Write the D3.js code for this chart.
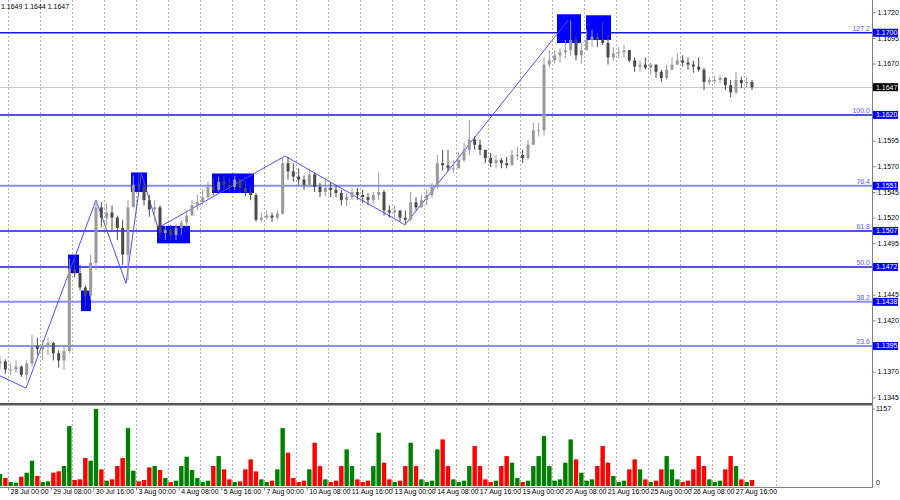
<!DOCTYPE html>
<html><head><meta charset="utf-8">
<script src="https://cdn.jsdelivr.net/npm/d3@7"></script>
<style>
html,body{margin:0;padding:0;background:#fff;}
svg{display:block;font-family:"Liberation Sans",Arial,sans-serif;}
</style></head>
<body><svg id="c" width="900" height="500"></svg>
<script>
// ---- data (4-hour bars, first bar starts 27 Jul 16:00; hour index 0 = 28 Jul 00:00) ----
const firstOpen = 1.1378;
const barHigh = [1.1385,1.1382,
1.1378,1.1381,1.1376,1.1381,1.1406,1.1403,
1.1401,1.1403,1.1399,1.1391,1.1396,1.1480,
1.1480,1.1474,1.1454,1.1484,1.1537,1.1535,
1.1534,1.1532,1.1522,1.1518,1.1537,1.1561,
1.1563,1.1557,1.1542,1.1537,1.1532,1.1512,
1.1513,1.1514,1.1518,1.1527,1.1537,1.1542,
1.1547,1.1555,1.1559,1.1560,1.1561,1.1559,
1.1561,1.1558,1.1556,1.1550,1.1544,1.1525,
1.1527,1.1525,1.1527,1.1579,1.1579,1.1573,
1.1568,1.1561,1.1568,1.1564,1.1554,1.1557,
1.1554,1.1552,1.1547,1.1544,1.1549,1.1549,
1.1547,1.1544,1.1545,1.1564,1.1547,1.1532,
1.1532,1.1527,1.1527,1.1545,1.1540,1.1542,
1.1547,1.1554,1.1581,1.1586,1.1586,1.1576,
1.1584,1.1593,1.1615,1.1599,1.1596,1.1586,
1.1583,1.1581,1.1578,1.1579,1.1586,1.1589,
1.1586,1.1596,1.1612,1.1612,1.1676,1.1683,
1.1683,1.1685,1.1693,1.1712,1.1696,1.1690,
1.1703,1.1703,1.1700,1.1710,1.1698,1.1686,
1.1686,1.1688,1.1683,1.1676,1.1673,1.1676,
1.1671,1.1669,1.1664,1.1669,1.1676,1.1680,
1.1678,1.1676,1.1673,1.1676,1.1666,1.1657,
1.1658,1.1659,1.1657,1.1654,1.1662,1.1657,
1.1657,1.1654];
const barLow = [1.1372,1.1368,
1.1367,1.1369,1.1365,1.1362,1.1375,1.1386,
1.1381,1.1386,1.1381,1.1374,1.1372,1.1388,
1.1462,1.1449,1.1433,1.1440,1.1469,1.1511,
1.1513,1.1508,1.1498,1.1474,1.1459,1.1537,
1.1545,1.1532,1.1521,1.1516,1.1500,1.1498,
1.1498,1.1498,1.1503,1.1511,1.1526,1.1527,
1.1532,1.1537,1.1542,1.1545,1.1547,1.1545,
1.1547,1.1544,1.1541,1.1537,1.1516,1.1516,
1.1518,1.1516,1.1518,1.1523,1.1557,1.1555,
1.1552,1.1547,1.1549,1.1545,1.1540,1.1541,
1.1540,1.1540,1.1532,1.1531,1.1537,1.1537,
1.1534,1.1532,1.1534,1.1537,1.1522,1.1520,
1.1520,1.1516,1.1514,1.1516,1.1527,1.1530,
1.1532,1.1539,1.1548,1.1566,1.1565,1.1564,
1.1568,1.1574,1.1581,1.1586,1.1581,1.1573,
1.1569,1.1568,1.1568,1.1568,1.1571,1.1576,
1.1573,1.1576,1.1591,1.1599,1.1600,1.1666,
1.1670,1.1671,1.1675,1.1678,1.1673,1.1670,
1.1683,1.1686,1.1686,1.1688,1.1669,1.1673,
1.1675,1.1676,1.1671,1.1662,1.1662,1.1664,
1.1659,1.1656,1.1652,1.1654,1.1664,1.1669,
1.1667,1.1664,1.1661,1.1662,1.1644,1.1649,
1.1650,1.1651,1.1644,1.1637,1.1640,1.1646,
1.1647,1.1644];
const barClose = [1.1380,1.1372,
1.1372,1.1375,1.1367,1.1378,1.1395,1.1392,
1.1396,1.1398,1.1388,1.1381,1.1390,1.1470,
1.1466,1.1452,1.1444,1.1476,1.1530,1.1520,
1.1525,1.1520,1.1510,1.1484,1.1530,1.1552,
1.1550,1.1537,1.1528,1.1530,1.1505,1.1508,
1.1503,1.1510,1.1515,1.1522,1.1532,1.1535,
1.1540,1.1550,1.1547,1.1555,1.1552,1.1550,
1.1557,1.1549,1.1545,1.1542,1.1518,1.1520,
1.1522,1.1520,1.1524,1.1573,1.1565,1.1560,
1.1557,1.1552,1.1562,1.1550,1.1545,1.1549,
1.1547,1.1544,1.1537,1.1540,1.1545,1.1542,
1.1540,1.1537,1.1542,1.1545,1.1527,1.1525,
1.1527,1.1520,1.1518,1.1535,1.1530,1.1537,
1.1542,1.1550,1.1573,1.1571,1.1568,1.1568,
1.1576,1.1586,1.1596,1.1591,1.1586,1.1578,
1.1573,1.1576,1.1573,1.1571,1.1581,1.1581,
1.1578,1.1591,1.1605,1.1605,1.1669,1.1673,
1.1678,1.1681,1.1683,1.1693,1.1678,1.1683,
1.1693,1.1696,1.1693,1.1690,1.1676,1.1680,
1.1681,1.1683,1.1673,1.1667,1.1669,1.1666,
1.1669,1.1662,1.1656,1.1664,1.1669,1.1673,
1.1671,1.1669,1.1667,1.1664,1.1652,1.1654,
1.1654,1.1656,1.1649,1.1642,1.1654,1.1651,
1.1652,1.1647];
const barVolume = [180,120,
60,50,140,200,380,150,
60,70,200,220,300,900,
90,100,420,380,1157,250,
80,100,300,420,870,230,
70,90,280,300,240,120,
60,80,300,440,240,120,
60,80,300,450,250,100,
60,70,250,400,220,100,
60,80,250,870,500,120,
60,80,250,650,300,100,
60,80,300,550,300,100,
60,80,300,800,350,100,
60,80,300,650,300,100,
60,80,550,700,300,100,
60,80,300,600,300,100,
60,80,300,450,350,120,
60,80,300,450,750,300,
80,100,350,700,400,200,
80,100,300,600,350,150,
60,80,250,400,250,100,
60,80,250,450,250,100,
60,80,250,450,300,100,
60,80,250,450,300,100,
60,90];

// zigzag vertices: hour index, price
const zigHours  = [-6, 13.5, 66, 88.5, 100, 112.5, 207.75, 297.75, 420];
const zigPrices = [1.1366, 1.1354, 1.1537, 1.1456, 1.1563, 1.1510, 1.1580, 1.1513, 1.1712];

// blue rectangles: [start hour, end hour, top price, bottom price]
const boxStart  = [45, 54.75, 92.25, 111.75, 153, 411.75, 433.5];
const boxEnd    = [53.25, 62.25, 104.25, 136.5, 184.5, 429.75, 452.25];
const boxTop    = [1.1484, 1.1449, 1.1564, 1.1512, 1.1563, 1.1718, 1.1717];
const boxBottom = [1.1466, 1.1429, 1.1545, 1.1495, 1.1544, 1.1690, 1.1693];

// Fibonacci levels
const fibNames  = ["127.2","100.0","76.4","61.8","50.0","38.2","23.6"];
const fibPrices = [1.1700, 1.1620, 1.1551, 1.1507, 1.1472, 1.1438, 1.1395];
const fibDark   = [true, true, false, true, true, false, false];

const lastPrice = 1.1647;
const priceTicks = [1.1720,1.1695,1.1670,1.1645,1.1620,1.1595,1.1570,1.1545,1.1520,1.1495,1.1470,1.1445,1.1420,1.1395,1.1370,1.1345];
const timeTickHours = [0,32,64,96,128,160,192,224,256,288,320,352,384,416,448,480,512,544];
const timeTickLabels = ["28 Jul 00:00","29 Jul 08:00","30 Jul 16:00","3 Aug 00:00","4 Aug 08:00","5 Aug 16:00","7 Aug 00:00","10 Aug 08:00","11 Aug 16:00","13 Aug 00:00","14 Aug 08:00","17 Aug 16:00","19 Aug 00:00","20 Aug 08:00","21 Aug 16:00","25 Aug 00:00","26 Aug 08:00","27 Aug 16:00"];
const gridDays = d3.range(0, 25);
const volMax = 1157;
const headerText = "1.1649 1.1644 1.1647";

// ---- drawing ----
const svg = d3.select("#c");
const W = 872, priceBottom = 403, volBottom = 487;
const x = d3.scaleLinear().domain([-6, 648]).range([0, W]);
const y = d3.scaleLinear().domain([1.1345, 1.1720]).range([397.4, 12.2]);
const yv = d3.scaleLinear().domain([0, volMax]).range([486, 409]);
const barStartHour = j => -8 + 4 * j;

const defs = svg.append("defs");
defs.append("clipPath").attr("id","cp").append("rect").attr("x",0).attr("y",0).attr("width",W).attr("height",priceBottom);
defs.append("clipPath").attr("id","cv").append("rect").attr("x",0).attr("y",406).attr("width",W).attr("height",81);

// grid
svg.append("g").selectAll("line").data(gridDays).join("line")
  .attr("x1", d => Math.round(x(d*24))+0.5).attr("x2", d => Math.round(x(d*24))+0.5)
  .attr("y1", 0).attr("y2", volBottom)
  .attr("stroke", "#b0b0b0").attr("stroke-dasharray", "2,2");

const main = svg.append("g").attr("clip-path","url(#cp)");

// current price line
main.append("line").attr("x1",0).attr("x2",W).attr("y1",Math.round(y(lastPrice))+0.5).attr("y2",Math.round(y(lastPrice))+0.5)
  .attr("stroke","#c8c8c8");

// fib lines
main.selectAll("line.fib").data(fibPrices).join("line").attr("class","fib")
  .attr("x1",0).attr("x2",W).attr("y1",d=>y(d)).attr("y2",d=>y(d))
  .attr("stroke",(d,i)=>fibDark[i]?"#1a1ad0":"#8c8cff")
  .attr("stroke-width",(d,i)=>fibDark[i]?1.5:2);

// boxes
main.selectAll("rect.box").data(boxStart).join("rect").attr("class","box")
  .attr("x",(d,i)=>x(d)).attr("width",(d,i)=>x(boxEnd[i])-x(d))
  .attr("y",(d,i)=>y(boxTop[i])).attr("height",(d,i)=>y(boxBottom[i])-y(boxTop[i]))
  .attr("fill","#0000ff");

// zigzag
main.append("path").datum(zigHours.map((h,i)=>[h,zigPrices[i]]))
  .attr("d", d3.line().x(d=>x(d[0])).y(d=>y(d[1])))
  .attr("fill","none").attr("stroke","#4d4dff").attr("stroke-width",1);

// candles
const bars = barClose.map((c,j)=>({h:barStartHour(j), o: j===0?firstOpen:barClose[j-1], hi:barHigh[j], lo:barLow[j], c, v:barVolume[j]}));
const cg = main.append("g");
bars.forEach(b=>{
  const cx = x(b.h+2);
  const up = b.c >= b.o;
  const col = up ? "#9a9a9a" : "#4a4a4a";
  cg.append("line").attr("x1",cx).attr("x2",cx).attr("y1",y(b.hi)).attr("y2",y(b.lo)).attr("stroke",col).attr("stroke-width",1);
  const top = y(Math.max(b.o,b.c)), bot = y(Math.min(b.o,b.c));
  cg.append("rect").attr("x",cx-1.5).attr("width",3).attr("y",top).attr("height",Math.max(1,bot-top)).attr("fill",col);
});

// header text
svg.append("text").attr("x",1).attr("y",9).attr("text-anchor","start").attr("font-size",7).attr("fill","#000").text(headerText);

// fib labels
svg.selectAll("text.fibl").data(fibNames).join("text").attr("class","fibl")
  .attr("x",870).attr("y",(d,i)=>y(fibPrices[i])-2).attr("text-anchor","end")
  .attr("font-size",7).attr("fill","#5a5aff").text(d=>d);

// separator between panels
svg.append("line").attr("x1",0).attr("x2",W).attr("y1",404).attr("y2",404).attr("stroke","#5a5a5a").attr("stroke-width",2);
svg.append("line").attr("x1",0).attr("x2",W).attr("y1",405.5).attr("y2",405.5).attr("stroke","#b0b0b0").attr("stroke-width",1);

// volume
svg.append("g").attr("clip-path","url(#cv)").selectAll("rect").data(bars).join("rect")
  .attr("x",d=>x(d.h+2)-2.2).attr("width",4.4)
  .attr("y",d=>yv(d.v)).attr("height",d=>yv(0)-yv(d.v))
  .attr("fill",d=>d.c>=d.o?"#008000":"#ff0000");

// right price axis (labels hidden where a coloured price tag covers them)
const tagPrices = fibPrices.concat([lastPrice]);
const covered = p => tagPrices.some(t => Math.abs(y(t) - y(p)) < 4);
const ya = svg.append("g").attr("transform",`translate(${W+0.5},0)`)
  .call(d3.axisRight(y).tickValues(priceTicks).tickSize(3).tickPadding(2)
    .tickFormat(d => covered(d) ? "" : d3.format(".4f")(d)));
ya.select(".domain").attr("d",`M0,0V${volBottom}`).attr("stroke","#808080");
ya.selectAll("line").attr("stroke","#808080");
ya.selectAll("text").attr("font-size",7).attr("fill","#000").attr("font-family","Liberation Sans, Arial, sans-serif");

// fib price tags
const tagG = svg.append("g");
fibPrices.forEach(p=>{
  const yy = y(p);
  tagG.append("rect").attr("x",W+1).attr("y",yy-4).attr("width",25).attr("height",8).attr("fill","#0000ff");
  tagG.append("text").attr("x",W+4).attr("y",yy).attr("dy","0.35em").attr("font-size",7).attr("fill","#fff").text(p.toFixed(4));
});
tagG.append("rect").attr("x",W+1).attr("y",y(lastPrice)-4).attr("width",25).attr("height",8).attr("fill","#000");
tagG.append("text").attr("x",W+4).attr("y",y(lastPrice)).attr("dy","0.35em").attr("font-size",7).attr("fill","#fff").text(lastPrice.toFixed(4));

// volume axis labels
svg.append("text").attr("x",W+4).attr("y",yv(volMax)).attr("dy","0.35em").attr("font-size",7).text(volMax);
svg.append("text").attr("x",W+4).attr("y",yv(0)-3).attr("dy","0.35em").attr("font-size",7).text("0");
svg.append("line").attr("x1",W).attr("x2",W+3).attr("y1",yv(volMax)).attr("y2",yv(volMax)).attr("stroke","#808080");

// bottom time axis
const xa = svg.append("g").attr("transform",`translate(0,${volBottom+0.5})`)
  .call(d3.axisBottom(x).tickValues(timeTickHours).tickSize(3).tickFormat((d,i)=>timeTickLabels[i]));
xa.select(".domain").attr("d",`M0,0H${W+1}`).attr("stroke","#808080");
xa.selectAll("line").attr("stroke","#808080");
xa.selectAll("text").attr("text-anchor","start").attr("dx","2").attr("y",2).attr("dy","0.71em")
  .attr("font-size",7).attr("fill","#000").attr("font-family","Liberation Sans, Arial, sans-serif");
</script>
</body></html>
